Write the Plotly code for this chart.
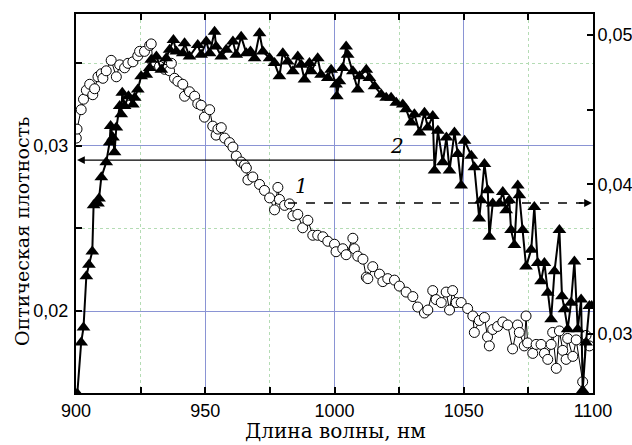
import plotly.graph_objects as go

# Series 2 (triangles) - left axis
wl_tri = [900.5, 902.0, 902.9, 904.0, 905.0, 906.3, 906.8, 908.5, 908.9, 909.8, 911.7, 913.0, 913.4, 914.3,
          914.9, 915.6, 916.9, 917.5, 917.9, 918.8, 920.3, 922.0, 922.7, 923.9, 925.2, 927.2, 928.5, 929.1,
          931.1, 933.0, 934.9, 936.2, 937.7, 938.8, 941.3, 942.0, 943.9, 947.1, 948.4, 950.4, 951.7, 953.6,
          954.2, 956.2, 958.1, 960.7, 962.0, 963.9, 965.9, 967.5, 969.1, 971.0, 972.3, 974.9, 976.8, 978.7,
          980.0, 981.9, 983.9, 985.8, 987.1, 988.4, 990.3, 991.0, 993.5, 994.8, 997.4, 998.7, 1000.6, 1000.9,
          1001.9, 1003.2, 1004.5, 1005.1, 1007.1, 1009.0, 1009.7, 1012.3, 1013.5, 1015.5, 1018.1, 1020.0,
          1021.9, 1023.9, 1026.4, 1027.7, 1029.6, 1030.9, 1032.9, 1034.8, 1036.1, 1038.0, 1038.7, 1040.0,
          1041.9, 1043.3, 1044.5, 1046.4, 1047.7, 1049.0, 1050.3, 1052.9, 1054.1, 1056.0, 1056.7, 1058.0,
          1059.3, 1059.9, 1061.2, 1063.8, 1065.1, 1066.4, 1067.6, 1068.3, 1069.6, 1070.9, 1071.5, 1072.8,
          1074.1, 1076.1, 1077.3, 1078.6, 1079.9, 1081.2, 1082.5, 1083.8, 1085.1, 1087.0, 1088.0, 1089.0,
          1090.2, 1091.5, 1092.8, 1094.1, 1095.4, 1096.0, 1097.3, 1098.6, 1099.5]
od_tri = [0.0150, 0.0181, 0.0190, 0.0221, 0.0228, 0.0236, 0.0264, 0.0265, 0.0268, 0.0281, 0.0290, 0.0302, 0.0312, 0.0305,
          0.0296, 0.0311, 0.0324, 0.0319, 0.0332, 0.0324, 0.0330, 0.0325, 0.0329, 0.0334, 0.0342, 0.0343, 0.0347, 0.0352,
          0.0354, 0.0346, 0.0353, 0.0358, 0.0364, 0.0357, 0.0356, 0.0362, 0.0354, 0.0361, 0.0355, 0.0363, 0.0356, 0.0369,
          0.0360, 0.0354, 0.0358, 0.0363, 0.0355, 0.0366, 0.0356, 0.0357, 0.0353, 0.0368, 0.0357, 0.0353, 0.0350, 0.0342,
          0.0356, 0.0351, 0.0345, 0.0354, 0.0349, 0.0340, 0.0350, 0.0345, 0.0353, 0.0343, 0.0341, 0.0346, 0.0337, 0.0330,
          0.0339, 0.0347, 0.0360, 0.0355, 0.0345, 0.0334, 0.0342, 0.0346, 0.0341, 0.0336, 0.0331, 0.0329,
          0.0329, 0.0326, 0.0325, 0.0322, 0.0314, 0.0319, 0.0308, 0.0320, 0.0311, 0.0318, 0.0285, 0.0309,
          0.0290, 0.0305, 0.0285, 0.0308, 0.0295, 0.0276, 0.0303, 0.0294, 0.0287, 0.0256, 0.0267, 0.0289,
          0.0273, 0.0245, 0.0265, 0.0265, 0.0272, 0.0261, 0.0267, 0.0249, 0.0240, 0.0276, 0.0270, 0.0249,
          0.0227, 0.0237, 0.0263, 0.0229, 0.0218, 0.0229, 0.0211, 0.0195, 0.0224, 0.0249, 0.0209, 0.0201,
          0.0189, 0.0205, 0.0230, 0.0189, 0.0207, 0.0152, 0.0181, 0.0203, 0.0203]

# Series 1 (circles) - right axis
wl_circ = [900.1, 900.4, 902.0, 902.9, 904.0, 905.3, 906.5, 907.2, 908.5, 909.8, 910.4, 911.7, 913.6, 915.6,
           916.9, 918.8, 920.1, 922.0, 923.9, 924.6, 926.5, 928.5, 929.1, 929.7, 932.3, 934.3, 936.2, 936.9,
           938.1, 939.4, 941.3, 942.0, 943.9, 945.9, 947.1, 948.4, 949.7, 951.7, 952.9, 954.2, 954.9, 956.2,
           957.5, 959.4, 960.7, 962.0, 963.9, 965.2, 965.9, 966.5, 968.4, 971.0, 972.9, 974.9, 976.8, 978.1,
           978.7, 980.7, 982.6, 983.9, 985.8, 987.7, 989.7, 991.6, 993.5, 995.5, 997.4, 1000.0, 1000.6,
           1003.2, 1004.5, 1007.1, 1007.7, 1009.0, 1011.0, 1012.3, 1012.9, 1014.8, 1017.4, 1018.7, 1020.6,
           1023.2, 1025.1, 1027.7, 1030.3, 1032.2, 1034.8, 1036.1, 1038.0, 1039.3, 1041.3, 1043.2, 1044.5,
           1045.7, 1047.1, 1049.0, 1051.5, 1053.5, 1054.1, 1056.0, 1058.0, 1059.2, 1059.9, 1061.2, 1063.1,
           1065.1, 1067.0, 1068.9, 1070.8, 1071.5, 1073.4, 1074.1, 1074.7, 1076.7, 1078.0, 1079.9, 1081.2,
           1082.5, 1083.8, 1084.4, 1085.8, 1087.0, 1088.3, 1089.6, 1090.2, 1092.2, 1093.5, 1096.0, 1097.3,
           1098.6]
od_circ = [0.0431, 0.0437, 0.0450, 0.0457, 0.0463, 0.0467, 0.0460, 0.0464, 0.0472, 0.0474, 0.0471, 0.0476, 0.0483, 0.0472,
           0.0480, 0.0478, 0.0481, 0.0482, 0.0486, 0.0489, 0.0489, 0.0493, 0.0494, 0.0482, 0.0479, 0.0477, 0.0476, 0.0481,
           0.0471, 0.0469, 0.0467, 0.0459, 0.0462, 0.0459, 0.0454, 0.0453, 0.0445, 0.0450, 0.0439, 0.0433, 0.0437, 0.0438,
           0.0431, 0.0428, 0.0425, 0.0419, 0.0415, 0.0413, 0.0411, 0.0403, 0.0405, 0.0400, 0.0396, 0.0391, 0.0383, 0.0398,
           0.0390, 0.0386, 0.0387, 0.0379, 0.0380, 0.0371, 0.0376, 0.0366, 0.0366, 0.0365, 0.0362, 0.0360, 0.0355,
           0.0357, 0.0353, 0.0364, 0.0357, 0.0352, 0.0350, 0.0338, 0.0337, 0.0345, 0.0340, 0.0335, 0.0337,
           0.0336, 0.0332, 0.0328, 0.0325, 0.0318, 0.0314, 0.0316, 0.0329, 0.0323, 0.0321, 0.0328, 0.0316,
           0.0329, 0.0321, 0.0321, 0.0317, 0.0312, 0.0301, 0.0309, 0.0311, 0.0298, 0.0292, 0.0303, 0.0305,
           0.0308, 0.0306, 0.0290, 0.0306, 0.0301, 0.0292, 0.0312, 0.0294, 0.0287, 0.0293, 0.0293, 0.0287,
           0.0283, 0.0293, 0.0301, 0.0277, 0.0302, 0.0289, 0.0283, 0.0297, 0.0285, 0.0296, 0.0268, 0.0299,
           0.0292]

x_ticks = [900, 950, 1000, 1050, 1100]
left_ticks = [0.02, 0.03]
right_ticks = [0.03, 0.04, 0.05]

BLUE = "#8a94d4"
GREEN = "#b4dcb4"
TICKFONT = dict(family="Liberation Sans, Arial", size=18, color="black")
TITLEFONT = dict(family="DejaVu Serif, serif", size=19, color="black")

fig = go.Figure()

# circles on primary (right-side) axis, drawn first
fig.add_trace(go.Scatter(
    x=wl_circ, y=od_circ, yaxis="y", mode="lines+markers",
    line=dict(color="black", width=1),
    marker=dict(symbol="circle", size=10, color="white", line=dict(color="black", width=1)),
    showlegend=False, cliponaxis=True))

# triangles on overlaying (left-side) axis, drawn on top
fig.add_trace(go.Scatter(
    x=wl_tri, y=od_tri, yaxis="y2", mode="lines+markers",
    line=dict(color="black", width=2),
    marker=dict(symbol="triangle-up", size=12, color="black", line=dict(width=0)),
    showlegend=False, cliponaxis=True))

fig.update_layout(
    width=632, height=445,
    margin=dict(l=76, r=39, t=14, b=52),
    paper_bgcolor="white", plot_bgcolor="white",
    separators=", ",
    xaxis=dict(
        range=[900, 1100], tickvals=x_ticks, ticks="inside", ticklen=6, tickwidth=1.5, tickcolor="black",
        showline=True, linecolor="black", linewidth=2, mirror="allticks", automargin=False,
        showgrid=True, gridcolor=BLUE, gridwidth=1, zeroline=False,
        minor=dict(dtick=25, tick0=900, ticks="inside", ticklen=6, tickwidth=1.5, tickcolor="black",
                   showgrid=True, gridcolor=GREEN, griddash="dot", gridwidth=1),
        tickfont=TICKFONT,
    ),
    yaxis=dict(
        range=[0.02605, 0.0514], side="right", tickvals=right_ticks, tickformat=".2f", automargin=False,
        ticks="inside", ticklen=6, tickwidth=1.5, tickcolor="black",
        showline=True, linecolor="black", linewidth=2, showgrid=False, zeroline=False,
        minor=dict(dtick=0.005, tick0=0.03, ticks="inside", ticklen=6, tickwidth=1.5, tickcolor="black", showgrid=False),
        tickfont=TICKFONT, ticklabelstandoff=-1,
    ),
    yaxis2=dict(
        range=[0.01504, 0.03797], side="left", overlaying="y", tickvals=left_ticks, tickformat=".2f",
        automargin=False,
        ticks="inside", ticklen=6, tickwidth=1.5, tickcolor="black",
        showline=True, linecolor="black", linewidth=2,
        showgrid=True, gridcolor=BLUE, gridwidth=1, zeroline=False,
        minor=dict(dtick=0.005, tick0=0.02, ticks="inside", ticklen=6, tickwidth=1.5, tickcolor="black",
                   showgrid=True, gridcolor=GREEN, griddash="dot", gridwidth=1),
        tickfont=TICKFONT, ticklabelstandoff=2,
    ),
)

# axis titles
fig.add_annotation(x=0.501, y=-0.100, xref="paper", yref="paper", text="Длина волны, нм", showarrow=False,
                   xanchor="center", yanchor="middle", font=dict(family="DejaVu Serif, serif", size=20, color="black"))
fig.add_annotation(x=-0.1044, y=0.425, xref="paper", yref="paper", text="Оптическая плотность", showarrow=False,
                   xanchor="center", yanchor="middle", textangle=-90, font=TITLEFONT)

# arrow 2 (solid) -> left axis
arrow2_y = 0.02913
fig.add_annotation(x=900.4, y=arrow2_y, xref="x", yref="y2", ax=1038.7, ay=arrow2_y, axref="x", ayref="y2",
                   showarrow=True, arrowhead=2, arrowsize=1.2, arrowwidth=1.3, arrowcolor="black", text="",
                   standoff=0, startstandoff=0)
# arrow 1 (dashed) -> right axis
arrow1_y = 0.03876
fig.add_shape(type="line", x0=982, x1=1096, y0=arrow1_y, y1=arrow1_y, xref="x", yref="y",
              line=dict(color="black", width=1.3, dash="dash"))
fig.add_annotation(x=1099.6, y=arrow1_y, xref="x", yref="y", ax=1094, ay=arrow1_y, axref="x", ayref="y",
                   showarrow=True, arrowhead=2, arrowsize=1.2, arrowwidth=1.3, arrowcolor="black", text="",
                   standoff=0, startstandoff=0)

fig.add_annotation(x=987.2, y=0.0399, xref="x", yref="y", text="<i>1</i>", showarrow=False,
                   font=dict(family="DejaVu Serif, serif", size=20, color="black"))
fig.add_annotation(x=1024, y=0.0300, xref="x", yref="y2", text="<i>2</i>", showarrow=False,
                   font=dict(family="DejaVu Serif, serif", size=20, color="black"))

# remove the default 8px page margin so the figure fills the 632x445 window exactly
fig.write_html("out.html", config={"displayModeBar": False},
               post_script="document.body.style.margin='0';document.body.style.overflow='hidden';")
